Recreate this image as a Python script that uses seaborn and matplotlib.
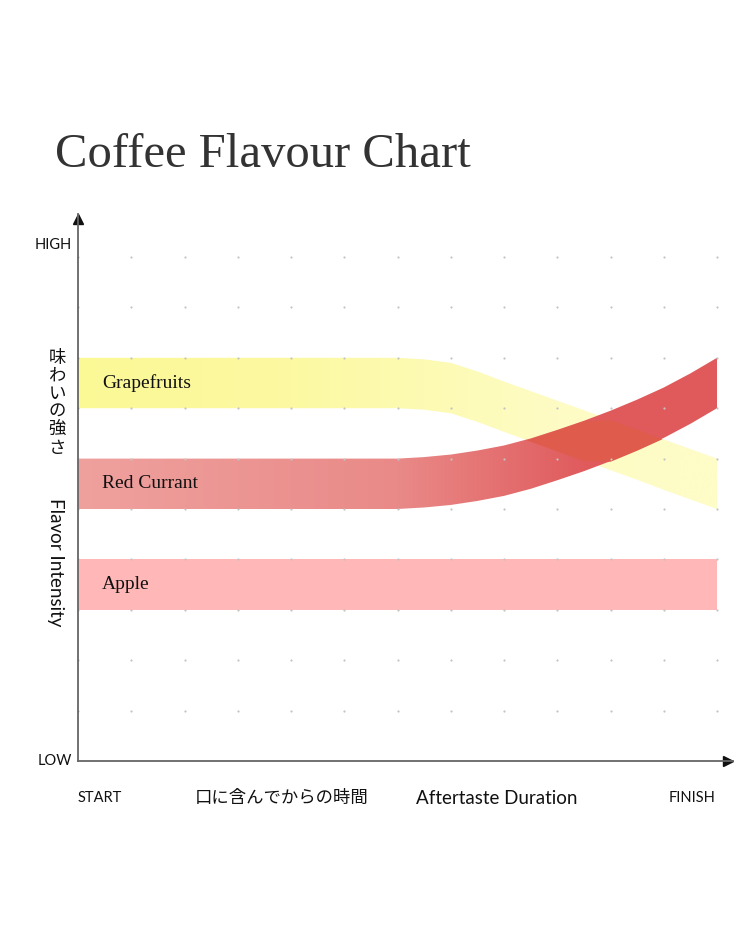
import numpy as np
import pandas as pd
import matplotlib
matplotlib.use("Agg")
import matplotlib.pyplot as plt
import seaborn as sns
from matplotlib.colors import to_rgb

# ---------------- data ----------------
title = "Coffee Flavour Chart"
time_x = [0, 6, 6.5, 7, 7.5, 8, 8.5, 9, 9.5, 10, 10.5, 11, 11.5, 12]
grapefruit_low = [7, 7, 6.97, 6.9, 6.73, 6.53, 6.34, 6.15, 5.96, 5.77, 5.58, 5.38, 5.19, 5.0]
redcurrant_low = [5, 5, 5.03, 5.08, 5.16, 5.26, 5.40, 5.57, 5.75, 5.95, 6.17, 6.41, 6.69, 7.0]
apple_low = [3] * len(time_x)
band_width = 1.0
band_names = ["Grapefruits", "Red Currant", "Apple"]

grid_x = list(range(0, 13))
grid_y = list(range(1, 11))

y_high_label, y_low_label = "HIGH", "LOW"
x_start_label, x_finish_label = "START", "FINISH"
x_label_jp, x_label_en = "口に含んでからの時間", "Aftertaste Duration"
y_label_jp, y_label_en = "味わいの強さ", "Flavor Intensity"

# colours
apple_color = "#ffb7b7"
red_stops_x = [0, 6, 9.5, 12]
red_stops = ["#efa19e", "#e98a88", "#e05b5d", "#e05a5c"]
yellow_stops_x = [0, 4, 9, 12]
yellow_stops = ["#fbf896", "#fcf9a2", "#fefcc4", "#fefcc8"]
overlap_color = "#df5b4b"

# ---------------- figure ----------------
sns.set_theme(style="white")
plt.rcParams["font.family"] = ["Lato", "DejaVu Sans"]

W, H = 750, 938
fig = plt.figure(figsize=(W / 100, H / 100), dpi=100)
fig.patch.set_facecolor("white")
X0, Y0 = 78, 761          # pixel position of data origin
XU, YU = 53.25, 50.4      # pixels per data unit
XMAX, YMAX = 12.3, 10.85
ax = fig.add_axes([X0 / W, (H - Y0) / H, XMAX * XU / W, YMAX * YU / H])

x = np.array(time_x, dtype=float)
g_lo = np.array(grapefruit_low)
r_lo = np.array(redcurrant_low)
a_lo = np.array(apple_low, dtype=float)

def gradient_image(stops_x, stops):
    xs = np.linspace(0, 12, 800)
    rgb = np.array([to_rgb(c) for c in stops])
    img = np.stack([np.interp(xs, stops_x, rgb[:, i]) for i in range(3)], axis=-1)
    return img[None, :, :]

# apple (solid)
ax.fill_between(x, a_lo, a_lo + band_width, color=apple_color, lw=0, zorder=1)

# grapefruit (gradient)
gpoly = ax.fill_between(x, g_lo, g_lo + band_width, color="none", lw=0, zorder=2)
gim = ax.imshow(gradient_image(yellow_stops_x, yellow_stops), extent=(0, 12, 0, YMAX),
                aspect="auto", interpolation="bilinear", zorder=2)
gim.set_clip_path(gpoly.get_paths()[0], ax.transData)

# red currant (gradient)
rpoly = ax.fill_between(x, r_lo, r_lo + band_width, color="none", lw=0, zorder=3)
rim = ax.imshow(gradient_image(red_stops_x, red_stops), extent=(0, 12, 0, YMAX),
                aspect="auto", interpolation="bilinear", zorder=3)
rim.set_clip_path(rpoly.get_paths()[0], ax.transData)

# overlap
lo = np.maximum(g_lo, r_lo)
hi = np.minimum(g_lo + band_width, r_lo + band_width)
ax.fill_between(x, lo, hi, where=lo < hi, interpolate=True, color=overlap_color, lw=0, zorder=4)

# grid dots
gx, gy = np.meshgrid(grid_x, grid_y)
dots = pd.DataFrame({"t": gx.ravel(), "v": gy.ravel()})
sns.scatterplot(data=dots, x="t", y="v", ax=ax, s=2.5, color="#c4c4c4", linewidth=0,
                zorder=5, legend=False, clip_on=False)

ax.set_xlim(0, XMAX)
ax.set_ylim(0, YMAX)
ax.set_xticks([]); ax.set_yticks([])
ax.set_xlabel(""); ax.set_ylabel("")
for s in ["top", "right"]:
    ax.spines[s].set_visible(False)
for s in ["left", "bottom"]:
    ax.spines[s].set_color("#666666")
    ax.spines[s].set_linewidth(1.3)
    ax.spines[s].set_zorder(6)
ax.plot([0], [YMAX - 0.1], marker="^", ms=7, color="#111111", clip_on=False, zorder=6)
ax.plot([XMAX - 0.1], [0], marker=">", ms=7, color="#111111", clip_on=False, zorder=6)
ax.set_facecolor("none")

# band labels
serif = ["Liberation Serif", "DejaVu Serif"]
for name, low in zip(band_names, [g_lo[0], r_lo[0], a_lo[0]]):
    ax.text(0.45, low + band_width / 2, name, family=serif, fontsize=14,
            color="#111111", va="center", ha="left", zorder=7)

# axis texts
def fp(px, py):
    return px / W, 1 - py / H

fig.text(*fp(72, 245), y_high_label, ha="right", va="center", fontsize=10.5, color="#111111")
fig.text(*fp(72, 761), y_low_label, ha="right", va="center", fontsize=10.5, color="#111111")
fig.text(*fp(78, 798), x_start_label, ha="left", va="center", fontsize=10.5, color="#111111")
fig.text(*fp(716, 798), x_finish_label, ha="right", va="center", fontsize=10.5, color="#111111")
fig.text(*fp(282, 798), x_label_jp, ha="center", va="center", fontsize=12.5,
         family=["Noto Sans CJK JP", "DejaVu Sans"], color="#111111")
fig.text(*fp(497, 798), x_label_en, ha="center", va="center", fontsize=13.5, color="#111111")
fig.text(*fp(57, 403), "\n".join(y_label_jp), ha="center", va="center", fontsize=12.5,
         family=["Noto Sans CJK JP", "DejaVu Sans"], color="#111111", linespacing=1.0)
fig.text(*fp(55, 562), y_label_en, ha="center", va="center", fontsize=13.5, rotation=270,
         color="#111111")

fig.text(*fp(55, 155), title, ha="left", va="center", fontsize=35, color="#333333",
         family=serif)

fig.savefig("out.png", dpi=100, facecolor="white")
